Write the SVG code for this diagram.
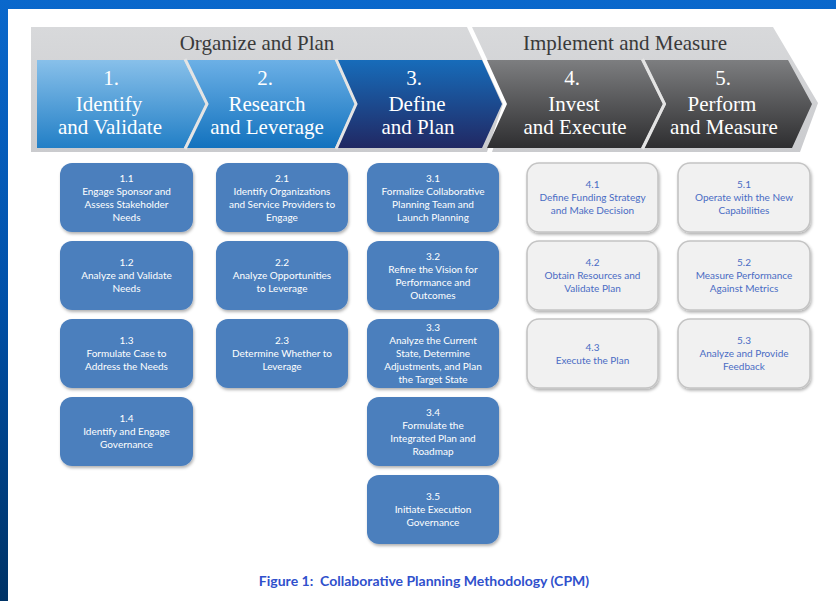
<svg xmlns="http://www.w3.org/2000/svg" width="836" height="601" viewBox="0 0 836 601">
<defs>
<linearGradient id="bg" x1="0" y1="0" x2="0" y2="1"><stop offset="0" stop-color="#0a68cc"/><stop offset="0.5" stop-color="#0050a8"/><stop offset="1" stop-color="#003366"/></linearGradient>
<linearGradient id="gb" x1="0" y1="0" x2="0" y2="1"><stop offset="0" stop-color="#d8d9db"/><stop offset="1" stop-color="#cacbce"/></linearGradient>
<linearGradient id="c1" x1="0" y1="0" x2="0" y2="1"><stop offset="0" stop-color="#88c0ea"/><stop offset="1" stop-color="#227fc6"/></linearGradient>
<linearGradient id="c2" x1="0" y1="0" x2="0" y2="1"><stop offset="0" stop-color="#6cb0e6"/><stop offset="1" stop-color="#1272be"/></linearGradient>
<linearGradient id="c3" x1="0" y1="0" x2="0" y2="1"><stop offset="0" stop-color="#176cba"/><stop offset="1" stop-color="#212863"/></linearGradient>
<linearGradient id="c4" x1="0" y1="0" x2="0" y2="1"><stop offset="0" stop-color="#7d7e80"/><stop offset="1" stop-color="#2e2e30"/></linearGradient>
<filter id="sh" x="-10%" y="-10%" width="125%" height="130%"><feDropShadow dx="1" dy="2" stdDeviation="1.5" flood-color="#000" flood-opacity="0.3"/></filter>
</defs>
<style>
.hd{font-family:"Liberation Serif",serif;font-size:21px;fill:#3a3a3a;text-anchor:middle}
.ch{font-family:"Liberation Serif",serif;font-size:21px;fill:#ffffff;text-anchor:middle}
.bb{fill:#4c7fbd;filter:url(#sh)}
.gbx{fill:#f1f1f1;stroke:#c4c4c4;stroke-width:1.6;filter:url(#sh)}
.bt{font-family:Lato,"Liberation Sans",sans-serif;font-size:10px;fill:#ffffff;text-anchor:middle}
.gt{font-family:Lato,"Liberation Sans",sans-serif;font-size:10px;fill:#4a6cc4;text-anchor:middle}
.gap{fill:none;stroke:#e4e4e4;stroke-width:3}
.cap{font-family:Lato,"Liberation Sans",sans-serif;font-size:14px;font-weight:bold;fill:#3050cc;text-anchor:middle}
</style>
<rect x="0" y="0" width="836" height="601" fill="url(#bg)"/>
<rect x="8" y="9" width="828" height="592" fill="#ffffff"/>

<g id="phases">
<polygon points="31,27 467,27 503,104 487,152 31,152" fill="url(#gb)"/>
<polygon points="472,27 773,27 818,103 800,152 492,152 508,104" fill="url(#gb)"/>
<text class="hd" x="257" y="50">Organize and Plan</text>
<text class="hd" x="625" y="50">Implement and Measure</text>
</g>

<g id="step1">
<polygon points="37,60 184,60 206,104 184,148 37,148" fill="url(#c1)"/>
<text class="ch" x="111" y="85">1.</text>
<text class="ch" x="109" y="111">Identify</text>
<text class="ch" x="110" y="134">and Validate</text>
</g>
<g id="step2">
<polygon points="186,60 335,60 355,104 335,148 186,148 208,104" fill="url(#c2)"/>
<text class="ch" x="265" y="85">2.</text>
<text class="ch" x="267" y="111">Research</text>
<text class="ch" x="267" y="134">and Leverage</text>
</g>
<g id="step3">
<polygon points="337,60 482,60 502,104 482,148 337,148 357,104" fill="url(#c3)"/>
<text class="ch" x="414" y="85">3.</text>
<text class="ch" x="417" y="111">Define</text>
<text class="ch" x="418" y="134">and Plan</text>
</g>
<g id="step4">
<polygon points="487,60 641,60 663,104 641,148 487,148 507,104" fill="url(#c4)"/>
<text class="ch" x="572" y="85">4.</text>
<text class="ch" x="574" y="111">Invest</text>
<text class="ch" x="575" y="134">and Execute</text>
</g>
<g id="step5">
<polygon points="644,60 788,60 812,104 792,148 644,148 666,104" fill="url(#c4)"/>
<text class="ch" x="723" y="85">5.</text>
<text class="ch" x="722" y="111">Perform</text>
<text class="ch" x="724" y="134">and Measure</text>
</g>
<g id="connectors">
<polyline class="gap" points="185,59 207,104 185,149"/>
<polyline class="gap" points="336,59 356,104 336,149"/>
<polyline class="gap" points="642.5,59 664.5,104 642.5,149"/>
</g>

<g id="n1-1"><rect class="bb" x="60" y="163" width="133" height="69" rx="12"/><text class="bt" x="126.5" y="181.5"><tspan x="126.5">1.1</tspan><tspan x="126.5" dy="13">Engage Sponsor and</tspan><tspan x="126.5" dy="13">Assess Stakeholder</tspan><tspan x="126.5" dy="13">Needs</tspan></text></g>
<g id="n1-2"><rect class="bb" x="60" y="241" width="133" height="69" rx="12"/><text class="bt" x="126.5" y="266"><tspan x="126.5">1.2</tspan><tspan x="126.5" dy="13">Analyze and Validate</tspan><tspan x="126.5" dy="13">Needs</tspan></text></g>
<g id="n1-3"><rect class="bb" x="60" y="319" width="133" height="69" rx="12"/><text class="bt" x="126.5" y="344"><tspan x="126.5">1.3</tspan><tspan x="126.5" dy="13">Formulate Case to</tspan><tspan x="126.5" dy="13">Address the Needs</tspan></text></g>
<g id="n1-4"><rect class="bb" x="60" y="397" width="133" height="69" rx="12"/><text class="bt" x="126.5" y="422"><tspan x="126.5">1.4</tspan><tspan x="126.5" dy="13">Identify and Engage</tspan><tspan x="126.5" dy="13">Governance</tspan></text></g>

<g id="n2-1"><rect class="bb" x="216" y="163" width="132" height="69" rx="12"/><text class="bt" x="282" y="181.5"><tspan x="282">2.1</tspan><tspan x="282" dy="13">Identify Organizations</tspan><tspan x="282" dy="13">and Service Providers to</tspan><tspan x="282" dy="13">Engage</tspan></text></g>
<g id="n2-2"><rect class="bb" x="216" y="241" width="132" height="69" rx="12"/><text class="bt" x="282" y="266"><tspan x="282">2.2</tspan><tspan x="282" dy="13">Analyze Opportunities</tspan><tspan x="282" dy="13">to Leverage</tspan></text></g>
<g id="n2-3"><rect class="bb" x="216" y="319" width="132" height="69" rx="12"/><text class="bt" x="282" y="344"><tspan x="282">2.3</tspan><tspan x="282" dy="13">Determine Whether to</tspan><tspan x="282" dy="13">Leverage</tspan></text></g>

<g id="n3-1"><rect class="bb" x="367" y="163" width="132" height="69" rx="12"/><text class="bt" x="433" y="181.5"><tspan x="433">3.1</tspan><tspan x="433" dy="13">Formalize Collaborative</tspan><tspan x="433" dy="13">Planning Team and</tspan><tspan x="433" dy="13">Launch Planning</tspan></text></g>
<g id="n3-2"><rect class="bb" x="367" y="241" width="132" height="69" rx="12"/><text class="bt" x="433" y="259.5"><tspan x="433">3.2</tspan><tspan x="433" dy="13">Refine the Vision for</tspan><tspan x="433" dy="13">Performance and</tspan><tspan x="433" dy="13">Outcomes</tspan></text></g>
<g id="n3-3"><rect class="bb" x="367" y="319" width="132" height="69" rx="12"/><text class="bt" x="433" y="331"><tspan x="433">3.3</tspan><tspan x="433" dy="13">Analyze the Current</tspan><tspan x="433" dy="13">State, Determine</tspan><tspan x="433" dy="13">Adjustments, and Plan</tspan><tspan x="433" dy="13">the Target State</tspan></text></g>
<g id="n3-4"><rect class="bb" x="367" y="397" width="132" height="69" rx="12"/><text class="bt" x="433" y="415.5"><tspan x="433">3.4</tspan><tspan x="433" dy="13">Formulate the</tspan><tspan x="433" dy="13">Integrated Plan and</tspan><tspan x="433" dy="13">Roadmap</tspan></text></g>
<g id="n3-5"><rect class="bb" x="367" y="475" width="132" height="69" rx="12"/><text class="bt" x="433" y="500"><tspan x="433">3.5</tspan><tspan x="433" dy="13">Initiate Execution</tspan><tspan x="433" dy="13">Governance</tspan></text></g>

<g id="n4-1"><rect class="gbx" x="527" y="163" width="131" height="69" rx="12"/><text class="gt" x="592.5" y="188"><tspan x="592.5">4.1</tspan><tspan x="592.5" dy="13">Define Funding Strategy</tspan><tspan x="592.5" dy="13">and Make Decision</tspan></text></g>
<g id="n4-2"><rect class="gbx" x="527" y="241" width="131" height="69" rx="12"/><text class="gt" x="592.5" y="266"><tspan x="592.5">4.2</tspan><tspan x="592.5" dy="13">Obtain Resources and</tspan><tspan x="592.5" dy="13">Validate Plan</tspan></text></g>
<g id="n4-3"><rect class="gbx" x="527" y="319" width="131" height="69" rx="12"/><text class="gt" x="592.5" y="350.5"><tspan x="592.5">4.3</tspan><tspan x="592.5" dy="13">Execute the Plan</tspan></text></g>

<g id="n5-1"><rect class="gbx" x="678" y="163" width="132" height="69" rx="12"/><text class="gt" x="744" y="188"><tspan x="744">5.1</tspan><tspan x="744" dy="13">Operate with the New</tspan><tspan x="744" dy="13">Capabilities</tspan></text></g>
<g id="n5-2"><rect class="gbx" x="678" y="241" width="132" height="69" rx="12"/><text class="gt" x="744" y="266"><tspan x="744">5.2</tspan><tspan x="744" dy="13">Measure Performance</tspan><tspan x="744" dy="13">Against Metrics</tspan></text></g>
<g id="n5-3"><rect class="gbx" x="678" y="319" width="132" height="69" rx="12"/><text class="gt" x="744" y="344"><tspan x="744">5.3</tspan><tspan x="744" dy="13">Analyze and Provide</tspan><tspan x="744" dy="13">Feedback</tspan></text></g>

<g id="caption"><text class="cap" x="424" y="586">Figure 1:&#160; Collaborative Planning Methodology (CPM)</text></g>
</svg>
